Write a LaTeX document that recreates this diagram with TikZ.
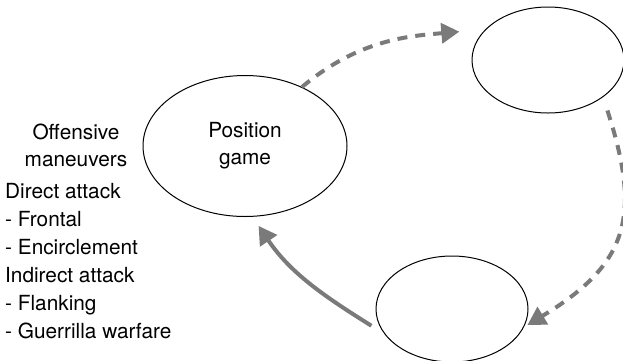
\documentclass[tikz,border=0pt]{standalone}
\usepackage{fontspec}
\setmainfont{TeX Gyre Heros}
\usepackage{xcolor}
\usetikzlibrary{shapes.geometric,arrows.meta}

\definecolor{flowgray}{RGB}{122,122,122}

\begin{document}
\begin{tikzpicture}[x=1pt,y=1pt,
        every node/.style={font=\fontsize{20.8}{27}\selectfont, inner sep=0pt},
        oval/.style={draw, ellipse, line width=1pt},
        flow/.style={draw=flowgray, line width=4pt, -{Triangle[length=18pt,width=20pt]}},
        dashedflow/.style={flow, dash pattern=on 10pt off 8pt}]
        \useasboundingbox (0,0) rectangle (623,-360);

        \node [oval, minimum width=204, minimum height=141, align=center] (game) at (245,-146) {Position\\game};
        \node [oval, minimum width=152, minimum height=106] (upper) at (548,-60) {};
        \node [oval, minimum width=152, minimum height=106] (lower) at (452,-309) {};

        \node [align=center] (offense) at (76,-145) {Offensive\\maneuvers};
        \node [align=left, anchor=north west, font=\fontsize{20.8}{28}\selectfont] (moves) at (5,-183)
                {Direct attack\\- Frontal\\- Encirclement\\Indirect attack\\- Flanking\\- Guerrilla warfare};

        \draw [dashedflow, shorten >=26pt] (game.46) to [out=40, in=185] (upper.154);
        \draw [dashedflow, shorten <=14pt, shorten >=4pt] (upper.-34) to [out=-72, in=31, looseness=1.3] (lower.-14);
        \draw [flow, shorten <=15pt, shorten >=11pt] (lower.200) to [out=148, in=-56] (game.-84);
\end{tikzpicture}
\end{document}
